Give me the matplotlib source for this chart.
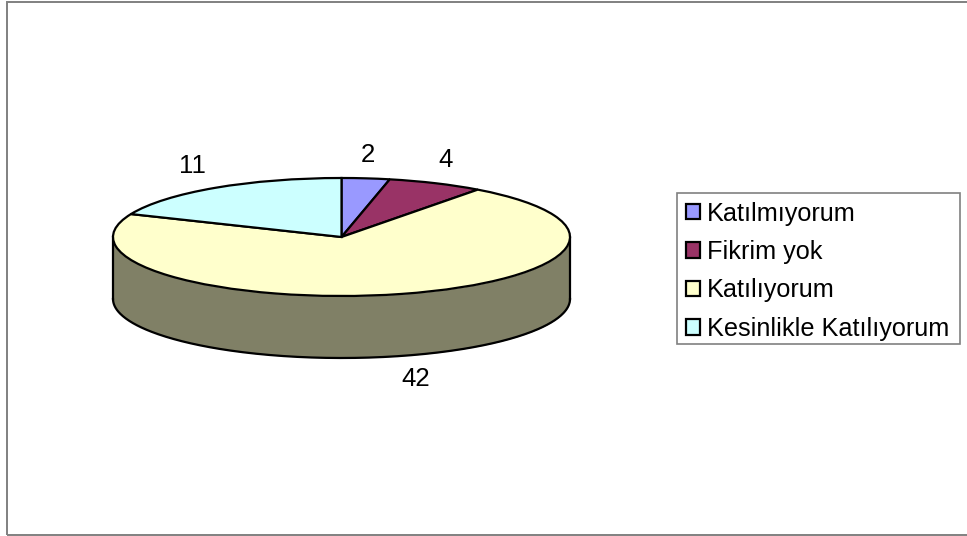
import numpy as np
from matplotlib import pyplot as plt
from matplotlib.patches import Patch, Rectangle

categories = ['Katılmıyorum', 'Fikrim yok', 'Katılıyorum', 'Kesinlikle Katılıyorum']
values = [2, 4, 42, 11]
colors = ['#9999FF', '#993366', '#FFFFCC', '#CCFFFF']
wall_color = '#808066'

W, H = 967, 536
cx, cy = 341.5, 237   # pie centre in pixels
rx, ry = 228.5, 59
depth = 62 / ry     # pie thickness in y units


def to_x(px):
    return (px - cx) / rx


def to_y(py):
    return (cy - py) / ry


plt.rcParams['font.family'] = ['Liberation Sans', 'DejaVu Sans']
fig = plt.figure(figsize=(W / 100, H / 100), dpi=100)
ax = fig.add_axes([0, 0, 1, 1])

wedges, _ = ax.pie(values, colors=colors, startangle=90, counterclock=False,
                   radius=1, wedgeprops={'edgecolor': 'black', 'linewidth': 1.6, 'zorder': 3})

# side wall of the front half
t = np.linspace(np.pi, 2 * np.pi, 300)
ax.fill_between(np.cos(t), np.sin(t), np.sin(t) - depth, color=wall_color, linewidth=0, zorder=1)
ax.plot(np.cos(t), np.sin(t) - depth, color='black', lw=1.6, zorder=2)
ax.plot([-1, -1], [0, -depth], color='black', lw=1.6, zorder=2)
ax.plot([1, 1], [0, -depth], color='black', lw=1.6, zorder=2)

ax.set_aspect('auto')
ax.set_xlim(to_x(0), to_x(W))
ax.set_ylim(to_y(H), to_y(0))
ax.axis('off')

# value labels
label_px = [(368, 155), (446, 160), (416, 379), (192, 166)]
for v, (px, py) in zip(values, label_px):
    ax.text(to_x(px), to_y(py), str(v), fontsize=18.5, ha='center', va='center', color='black')

# chart frame, right side runs off the picture
ax.add_patch(Rectangle((to_x(7), to_y(535)), (W + 10 - 7) / rx, (535 - 2) / ry, fill=False,
                       edgecolor='#808080', lw=1.4, clip_on=False, zorder=0))

# legend frame
ax.add_patch(Rectangle((to_x(677), to_y(344)), 283 / rx, 151 / ry, fill=False,
                       edgecolor='#808080', lw=1.2, clip_on=False, zorder=4))

handles = [Patch(facecolor=c, edgecolor='black', linewidth=1.6) for c in colors]
leg = fig.legend(handles, categories, loc='upper left', mode='expand',
                 bbox_to_anchor=(677 / W, 1 - 344 / H, 283 / W, 151 / H), bbox_transform=fig.transFigure,
                 fontsize=18.15, frameon=False,
                 handlelength=0.57, handleheight=0.57, handletextpad=0.28,
                 labelspacing=0.57, borderpad=0.34, borderaxespad=0)

fig.savefig('out.png', dpi=100)
